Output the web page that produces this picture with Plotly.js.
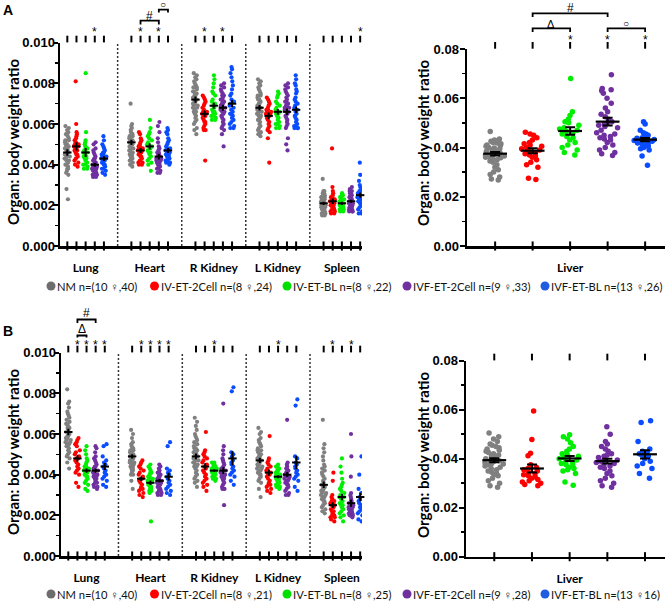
<!DOCTYPE html>
<html><head><meta charset="utf-8">
<script src="https://cdn.plot.ly/plotly-3.0.1.min.js"></script>
<style>html,body{margin:0;padding:0;background:#fff}#c{width:667px;height:604px}</style>
</head><body><div id="c"></div><script>
// ---------- categories / labels ----------
const organs = ['Lung','Heart','R Kidney','L Kidney','Spleen'];
const groups = ['NM','IV-ET-2Cell','IV-ET-BL','IVF-ET-2Cell','IVF-ET-BL'];
const colors = ['#808080','#ff0000','#00ee00','#7030a0','#0a4cff'];
const legendColors = ['#6d6d6d','#ff0000','#00e000','#7030a0','#1f5ce0'];
const legendA = ['NM n=(10 \u2640,40)','IV-ET-2Cell n=(8 \u2640,24)','IV-ET-BL n=(8 \u2640,22)','IVF-ET-2Cell n=(9 \u2640,33)','IVF-ET-BL n=(13 \u2640,26)'];
const legendB = ['NM n=(10 \u2640,40)','IV-ET-2Cell n=(8 \u2640,21)','IV-ET-BL n=(8 \u2640,25)','IVF-ET-2Cell n=(9 \u2640,28)','IVF-ET-BL n=(13 \u264016)'];
const yTicksL = [0, 0.002, 0.004, 0.006, 0.008, 0.010];
const yTicksR = [0, 0.02, 0.04, 0.06, 0.08];

// ---------- Panel A data (organ : body weight ratio) ----------
const A_lung = [
 [.0059,.0058,.0057,.0056,.0055,.0055,.0054,.0053,.0052,.0052,.0051,.0050,.0050,.0049,.0048,.0048,.0047,.0047,.0046,.0046,.0045,.0045,.0044,.0044,.0043,.0043,.0042,.0042,.0041,.0040,.0040,.0039,.0038,.0038,.0037,.0036,.0035,.0028,.0023,.0049],
 [.0081,.0060,.0056,.0055,.0054,.0053,.0052,.0051,.0050,.0050,.0049,.0049,.0048,.0047,.0047,.0046,.0045,.0045,.0044,.0043,.0042,.0041,.0040,.0039],
 [.0085,.0056,.0052,.0051,.0050,.0049,.0048,.0047,.0046,.0046,.0045,.0044,.0044,.0043,.0043,.0042,.0041,.0040,.0040,.0039,.0038,.0038],
 [.0051,.0050,.0048,.0047,.0046,.0045,.0044,.0043,.0043,.0042,.0042,.0041,.0041,.0040,.0040,.0040,.0039,.0039,.0039,.0038,.0038,.0038,.0037,.0037,.0037,.0036,.0036,.0036,.0035,.0035,.0035,.0034,.0034],
 [.0054,.0052,.0050,.0049,.0048,.0047,.0046,.0046,.0045,.0045,.0044,.0044,.0043,.0043,.0042,.0042,.0041,.0041,.0040,.0040,.0039,.0038,.0038,.0037,.0036,.0035]];
const A_heart = [
 [.0070,.0060,.0059,.0058,.0057,.0056,.0055,.0055,.0054,.0054,.0053,.0053,.0052,.0052,.0051,.0051,.0050,.0050,.0050,.0049,.0049,.0048,.0048,.0047,.0047,.0046,.0046,.0045,.0045,.0044,.0044,.0043,.0043,.0042,.0042,.0041,.0040,.0039,.0051,.0052],
 [.0056,.0055,.0053,.0052,.0051,.0050,.0049,.0049,.0048,.0048,.0047,.0047,.0046,.0046,.0045,.0045,.0044,.0044,.0043,.0042,.0041,.0041,.0040,.0040],
 [.0062,.0058,.0056,.0055,.0054,.0053,.0052,.0051,.0050,.0049,.0049,.0048,.0047,.0046,.0046,.0045,.0044,.0043,.0042,.0041,.0040,.0037],
 [.0061,.0059,.0056,.0053,.0051,.0049,.0048,.0047,.0046,.0046,.0045,.0045,.0044,.0044,.0044,.0043,.0043,.0043,.0042,.0042,.0042,.0041,.0041,.0041,.0040,.0040,.0039,.0039,.0038,.0038,.0037,.0036,.0036],
 [.0058,.0057,.0056,.0055,.0053,.0052,.0051,.0050,.0049,.0048,.0048,.0047,.0047,.0046,.0046,.0045,.0045,.0044,.0044,.0043,.0043,.0042,.0042,.0041,.0041,.0040]];
const A_rkid = [
 [.0085,.0084,.0083,.0082,.0081,.0080,.0079,.0078,.0078,.0077,.0076,.0076,.0075,.0075,.0074,.0074,.0073,.0073,.0072,.0072,.0071,.0071,.0070,.0070,.0069,.0069,.0068,.0068,.0067,.0066,.0066,.0065,.0064,.0063,.0062,.0061,.0060,.0058,.0057,.0055],
 [.0074,.0073,.0072,.0071,.0070,.0069,.0068,.0067,.0066,.0066,.0065,.0065,.0064,.0064,.0063,.0062,.0061,.0061,.0060,.0059,.0058,.0057,.0057,.0042],
 [.0084,.0082,.0080,.0078,.0076,.0075,.0074,.0072,.0071,.0070,.0069,.0068,.0067,.0066,.0066,.0065,.0065,.0064,.0064,.0063,.0062,.0062],
 [.0080,.0079,.0078,.0077,.0076,.0075,.0074,.0074,.0073,.0072,.0072,.0071,.0071,.0070,.0070,.0069,.0069,.0068,.0068,.0067,.0066,.0066,.0065,.0064,.0063,.0062,.0061,.0060,.0059,.0058,.0057,.0055,.0049],
 [.0088,.0087,.0085,.0083,.0081,.0079,.0077,.0075,.0074,.0072,.0071,.0070,.0069,.0068,.0067,.0066,.0065,.0065,.0064,.0063,.0062,.0061,.0060,.0059,.0058,.0058]];
const A_lkid = [
 [.0082,.0081,.0080,.0079,.0078,.0077,.0076,.0075,.0074,.0074,.0073,.0072,.0072,.0071,.0070,.0070,.0069,.0069,.0068,.0068,.0067,.0067,.0066,.0066,.0065,.0065,.0064,.0064,.0063,.0062,.0062,.0061,.0060,.0059,.0058,.0057,.0056,.0055,.0054,.0068],
 [.0073,.0072,.0071,.0070,.0069,.0068,.0067,.0067,.0066,.0066,.0065,.0065,.0064,.0064,.0063,.0062,.0061,.0060,.0059,.0058,.0057,.0056,.0053,.0041],
 [.0076,.0075,.0074,.0073,.0071,.0070,.0069,.0068,.0067,.0066,.0066,.0065,.0065,.0064,.0063,.0062,.0061,.0060,.0060,.0059,.0058,.0058],
 [.0080,.0079,.0078,.0077,.0076,.0075,.0074,.0073,.0072,.0071,.0071,.0070,.0070,.0069,.0069,.0068,.0068,.0067,.0067,.0066,.0066,.0065,.0064,.0063,.0062,.0061,.0060,.0059,.0058,.0053,.0050,.0047,.0068],
 [.0084,.0082,.0080,.0079,.0077,.0076,.0075,.0073,.0072,.0071,.0070,.0069,.0068,.0067,.0066,.0065,.0064,.0063,.0062,.0061,.0060,.0059,.0059,.0058,.0058,.0058]];
const A_spleen = [
 [.0033,.0027,.0027,.0026,.0026,.0025,.0025,.0025,.0024,.0024,.0024,.0023,.0023,.0023,.0022,.0022,.0022,.0021,.0021,.0021,.0021,.0020,.0020,.0020,.0020,.0019,.0019,.0019,.0018,.0018,.0018,.0017,.0017,.0017,.0016,.0016,.0016,.0015,.0015,.0022],
 [.0048,.0029,.0027,.0026,.0025,.0024,.0024,.0023,.0023,.0022,.0022,.0021,.0021,.0020,.0020,.0020,.0019,.0019,.0018,.0018,.0017,.0017,.0016,.0016],
 [.0026,.0025,.0025,.0024,.0024,.0023,.0023,.0022,.0022,.0021,.0021,.0021,.0020,.0020,.0020,.0019,.0019,.0019,.0018,.0018,.0017,.0017],
 [.0029,.0028,.0027,.0027,.0026,.0026,.0025,.0025,.0024,.0024,.0024,.0023,.0023,.0023,.0022,.0022,.0022,.0021,.0021,.0021,.0020,.0020,.0020,.0019,.0019,.0019,.0018,.0018,.0018,.0018,.0017,.0017,.0017],
 [.0041,.0035,.0032,.0030,.0029,.0028,.0027,.0027,.0026,.0026,.0025,.0025,.0024,.0024,.0023,.0023,.0022,.0022,.0021,.0021,.0020,.0019,.0018,.0017,.0016,.0016]];
const A_liver = [
 [.0465,.0435,.0430,.0428,.0425,.0420,.0418,.0415,.0410,.0408,.0405,.0400,.0398,.0395,.0390,.0388,.0385,.0382,.0380,.0378,.0375,.0372,.0370,.0368,.0365,.0362,.0360,.0358,.0355,.0350,.0345,.0340,.0330,.0320,.0310,.0300,.0290,.0280,.0272,.0268],
 [.0462,.0455,.0450,.0440,.0430,.0420,.0415,.0410,.0405,.0400,.0395,.0390,.0385,.0380,.0375,.0370,.0365,.0360,.0350,.0340,.0330,.0320,.0275,.0270],
 [.0680,.0545,.0530,.0515,.0505,.0500,.0490,.0480,.0475,.0470,.0465,.0460,.0455,.0445,.0440,.0430,.0420,.0410,.0400,.0390,.0380,.0370],
 [.0695,.0640,.0635,.0630,.0620,.0600,.0580,.0560,.0545,.0535,.0525,.0515,.0505,.0500,.0495,.0490,.0485,.0480,.0470,.0460,.0455,.0450,.0445,.0440,.0435,.0430,.0420,.0410,.0400,.0390,.0380,.0375,.0368],
 [.0505,.0495,.0470,.0460,.0455,.0450,.0445,.0440,.0438,.0435,.0432,.0430,.0428,.0425,.0422,.0420,.0418,.0415,.0412,.0410,.0405,.0400,.0395,.0390,.0365,.0328]];
const A_mean = [[.0046,.0049,.0046,.0040,.0043],[.0051,.0047,.0049,.0044,.0047],[.0072,.0065,.0069,.0068,.0070],[.0068,.0064,.0066,.0066,.0067],[.0021,.0022,.0021,.0022,.0025]];
const A_sem  = [[.00016,.00020,.00022,.00010,.00012],[.00013,.00012,.00015,.00014,.00012],[.00015,.00016,.00015,.00015,.00018],[.00014,.00017,.00014,.00016,.00016],[.00008,.00014,.00008,.00007,.00013]];
const A_liverMean = [.0375,.0387,.0467,.0505,.0432];
const A_liverSem  = [.0007,.0010,.0015,.0016,.0007];
const A_stars = [[0,3],[1,1],[1,3],[2,1],[2,3],[4,4]];
const A_liverStars = [2,3,4];

// ---------- Panel B data ----------
const B_lung = [
 [.0082,.0076,.0075,.0073,.0071,.0070,.0069,.0068,.0067,.0066,.0065,.0065,.0064,.0063,.0063,.0062,.0061,.0061,.0060,.0060,.0059,.0059,.0058,.0058,.0057,.0057,.0056,.0056,.0055,.0055,.0054,.0054,.0053,.0052,.0051,.0050,.0049,.0048,.0046,.0043],
 [.0058,.0057,.0056,.0055,.0054,.0052,.0051,.0050,.0049,.0048,.0048,.0047,.0046,.0045,.0044,.0043,.0042,.0041,.0040,.0036,.0034],
 [.0054,.0052,.0050,.0048,.0047,.0046,.0045,.0044,.0044,.0043,.0043,.0042,.0042,.0041,.0041,.0040,.0040,.0039,.0039,.0038,.0037,.0036,.0035,.0033,.0032],
 [.0054,.0053,.0051,.0049,.0048,.0047,.0046,.0045,.0044,.0044,.0043,.0042,.0042,.0041,.0041,.0040,.0040,.0039,.0039,.0038,.0038,.0037,.0036,.0036,.0035,.0034,.0034,.0033],
 [.0055,.0054,.0049,.0047,.0046,.0045,.0044,.0043,.0042,.0041,.0040,.0039,.0038,.0037,.0035,.0034]];
const B_heart = [
 [.0062,.0060,.0058,.0056,.0055,.0054,.0053,.0053,.0052,.0052,.0051,.0051,.0050,.0050,.0050,.0049,.0049,.0049,.0048,.0048,.0048,.0047,.0047,.0047,.0046,.0046,.0046,.0045,.0045,.0044,.0044,.0043,.0043,.0042,.0042,.0041,.0040,.0040,.0037,.0033],
 [.0047,.0046,.0045,.0044,.0043,.0042,.0041,.0040,.0039,.0038,.0038,.0037,.0036,.0035,.0034,.0033,.0033,.0032,.0031,.0030,.0029],
 [.0045,.0044,.0043,.0042,.0041,.0041,.0040,.0039,.0039,.0038,.0038,.0037,.0037,.0036,.0036,.0035,.0035,.0034,.0034,.0033,.0033,.0032,.0032,.0031,.0017],
 [.0045,.0044,.0043,.0042,.0041,.0041,.0040,.0040,.0039,.0039,.0038,.0038,.0037,.0037,.0036,.0036,.0035,.0035,.0034,.0034,.0033,.0033,.0032,.0032,.0031,.0031,.0030,.0030],
 [.0056,.0054,.0043,.0042,.0041,.0040,.0039,.0038,.0037,.0036,.0035,.0034,.0033,.0032,.0031,.0030]];
const B_rkid = [
 [.0068,.0066,.0064,.0062,.0060,.0059,.0058,.0057,.0056,.0055,.0054,.0053,.0053,.0052,.0052,.0051,.0051,.0050,.0050,.0049,.0049,.0048,.0048,.0047,.0047,.0046,.0046,.0045,.0045,.0044,.0044,.0043,.0042,.0041,.0040,.0039,.0038,.0037,.0036,.0034],
 [.0061,.0052,.0051,.0050,.0049,.0048,.0047,.0046,.0045,.0044,.0043,.0042,.0041,.0040,.0039,.0038,.0037,.0036,.0035,.0034,.0032],
 [.0046,.0046,.0045,.0045,.0044,.0044,.0044,.0043,.0043,.0043,.0042,.0042,.0042,.0042,.0041,.0041,.0041,.0040,.0040,.0040,.0039,.0039,.0038,.0038,.0037],
 [.0075,.0054,.0052,.0050,.0048,.0047,.0046,.0045,.0044,.0043,.0043,.0042,.0042,.0041,.0041,.0040,.0040,.0039,.0039,.0038,.0038,.0037,.0036,.0035,.0034,.0033,.0033,.0025],
 [.0083,.0081,.0051,.0050,.0049,.0047,.0046,.0045,.0044,.0043,.0042,.0041,.0040,.0039,.0037,.0035]];
const B_lkid = [
 [.0063,.0061,.0060,.0058,.0057,.0056,.0055,.0054,.0053,.0052,.0052,.0051,.0050,.0050,.0049,.0049,.0048,.0048,.0047,.0047,.0046,.0046,.0045,.0045,.0044,.0044,.0043,.0043,.0042,.0042,.0041,.0041,.0040,.0040,.0039,.0038,.0037,.0036,.0033,.0029],
 [.0059,.0048,.0047,.0046,.0045,.0044,.0043,.0042,.0041,.0040,.0040,.0039,.0038,.0037,.0036,.0035,.0035,.0034,.0033,.0032,.0031],
 [.0045,.0044,.0044,.0043,.0043,.0042,.0042,.0041,.0041,.0040,.0040,.0039,.0039,.0039,.0038,.0038,.0037,.0037,.0036,.0036,.0035,.0035,.0034,.0034,.0033],
 [.0067,.0046,.0045,.0044,.0043,.0043,.0042,.0042,.0041,.0041,.0040,.0040,.0039,.0039,.0038,.0038,.0037,.0037,.0036,.0036,.0035,.0035,.0034,.0033,.0032,.0031,.0030,.0030],
 [.0077,.0074,.0049,.0048,.0046,.0045,.0044,.0043,.0042,.0041,.0040,.0039,.0038,.0037,.0034,.0032]];
const B_spleen = [
 [.0067,.0055,.0053,.0051,.0049,.0047,.0045,.0044,.0043,.0042,.0041,.0040,.0039,.0038,.0037,.0036,.0035,.0035,.0034,.0034,.0033,.0033,.0032,.0032,.0031,.0031,.0030,.0030,.0029,.0029,.0028,.0028,.0027,.0027,.0026,.0025,.0024,.0023,.0022,.0021],
 [.0041,.0037,.0030,.0029,.0028,.0027,.0027,.0026,.0025,.0025,.0024,.0023,.0022,.0022,.0021,.0020,.0020,.0019,.0019,.0018,.0017],
 [.0048,.0044,.0041,.0038,.0036,.0035,.0034,.0033,.0032,.0031,.0030,.0029,.0029,.0028,.0027,.0026,.0025,.0025,.0024,.0023,.0022,.0021,.0020,.0019,.0017],
 [.0060,.0049,.0039,.0031,.0030,.0029,.0028,.0027,.0027,.0026,.0026,.0025,.0025,.0024,.0024,.0024,.0023,.0023,.0023,.0022,.0022,.0022,.0021,.0021,.0021,.0020,.0020,.0019],
 [.0049,.0040,.0033,.0031,.0029,.0028,.0027,.0026,.0025,.0024,.0023,.0022,.0021,.0020,.0018,.0017]];
const B_liver = [
 [.0505,.0490,.0480,.0470,.0460,.0455,.0450,.0445,.0440,.0435,.0430,.0425,.0420,.0415,.0410,.0405,.0400,.0398,.0395,.0392,.0390,.0388,.0385,.0380,.0378,.0375,.0370,.0365,.0360,.0355,.0350,.0345,.0340,.0335,.0330,.0320,.0310,.0300,.0290,.0283],
 [.0595,.0478,.0422,.0412,.0375,.0365,.0360,.0355,.0350,.0345,.0340,.0335,.0330,.0325,.0320,.0315,.0310,.0305,.0300,.0295,.0290],
 [.0498,.0490,.0480,.0465,.0450,.0440,.0430,.0420,.0415,.0410,.0405,.0400,.0395,.0390,.0385,.0380,.0375,.0370,.0365,.0360,.0355,.0350,.0340,.0305,.0292],
 [.0530,.0500,.0470,.0460,.0450,.0440,.0430,.0420,.0415,.0410,.0405,.0400,.0395,.0390,.0385,.0380,.0375,.0370,.0365,.0360,.0350,.0340,.0330,.0320,.0310,.0300,.0290,.0283],
 [.0555,.0548,.0470,.0440,.0430,.0425,.0420,.0415,.0410,.0400,.0390,.0380,.0370,.0360,.0340,.0320]];
const B_mean = [[.0061,.0048,.0042,.0042,.0044],[.0049,.0038,.0036,.0037,.0039],[.0049,.0044,.0042,.0042,.0048],[.0047,.0041,.0039,.0040,.0046],[.0035,.0025,.0029,.0026,.0029]];
const B_sem  = [[.00016,.00015,.00010,.00011,.00017],[.00011,.00011,.00011,.00009,.00019],[.00014,.00016,.00006,.00017,.00035],[.00013,.00015,.00007,.00013,.00033],[.00016,.00014,.00016,.00018,.00021]];
const B_liverMean = [.0394,.0360,.0401,.0390,.0418];
const B_liverSem  = [.0008,.0016,.0010,.0010,.0017];
const B_stars = [[0,1],[0,2],[0,3],[0,4],[1,1],[1,2],[1,3],[1,4],[2,2],[3,2],[4,1],[4,3]];
const B_liverStars = [];

// ---------- geometry (pixels) ----------
const W = 667, H = 604;
const PX = x => x / W, PY = y => 1 - y / H;
const LR = [-0.8, 32.2], RR = [-0.75, 4.53];
const GEO = {
  A: {L: {x0: 60, x1: 362, yb: 246, yt: 42.7}, R: {x0: 467, x1: 665, yb: 246, yt: 49}},
  B: {L: {x0: 61, x1: 362, yb: 556, yt: 352.7}, R: {x0: 466, x1: 665, yb: 556.7, yt: 360.7}}
};
const xL = (g, v) => g.x0 + (v - LR[0]) / (LR[1] - LR[0]) * (g.x1 - g.x0);
const xR = (g, v) => g.x0 + (v - RR[0]) / (RR[1] - RR[0]) * (g.x1 - g.x0);
const pos = (oi, gi) => oi * 7 + gi;

const traces = [], shapes = [], annotations = [];
const FONT_NUM = 'Liberation Sans, Arial, sans-serif';
const FONT_TXT = 'Lato, Open Sans, sans-serif';

function vbar(x, yTop, yBot, w) {
  shapes.push({type: 'line', xref: 'paper', yref: 'paper', x0: PX(x), x1: PX(x), y0: PY(yBot), y1: PY(yTop), line: {color: '#000', width: w || 2}});
}
function star(x, y) {
  annotations.push({text: '*', x: PX(x), y: PY(y), xref: 'paper', yref: 'paper', showarrow: false, xanchor: 'center', yanchor: 'middle',
    font: {family: FONT_NUM, size: 12, color: '#000'}});
}

function panel(G, axL, ayL, axR, ayR, organData, means, sems, liver, liverMean, liverSem, stars, liverStars, starYL, starYR) {
  organData.forEach((org, oi) => org.forEach((vals, gi) => {
    traces.push({type: 'box', x0: pos(oi, gi), y: vals, xaxis: axL, yaxis: ayL, boxpoints: 'all', jitter: 1, pointpos: 0,
      width: 0.62, fillcolor: 'rgba(0,0,0,0)', line: {width: 0, color: 'rgba(0,0,0,0)'}, whiskerwidth: 0,
      marker: {color: colors[gi], size: 4.2}, hoverinfo: 'skip', showlegend: false});
  }));
  liver.forEach((vals, gi) => {
    traces.push({type: 'box', x0: gi, y: vals, xaxis: axR, yaxis: ayR, boxpoints: 'all', jitter: 1, pointpos: 0,
      width: 0.6, fillcolor: 'rgba(0,0,0,0)', line: {width: 0, color: 'rgba(0,0,0,0)'}, whiskerwidth: 0,
      marker: {color: colors[gi], size: 5.5}, hoverinfo: 'skip', showlegend: false});
  });
  const mx = [], my = [], me = [], allx = [];
  means.forEach((row, oi) => row.forEach((m, gi) => { mx.push(pos(oi, gi)); my.push(m); me.push(sems[oi][gi]); }));
  traces.push({type: 'scatter', mode: 'markers', x: mx, y: my, xaxis: axL, yaxis: ayL, cliponaxis: false,
    marker: {symbol: 'line-ew-open', size: 6, color: '#000', line: {width: 2, color: '#000'}},
    error_y: {type: 'data', array: me, visible: true, color: '#000', thickness: 2, width: 0}, hoverinfo: 'skip', showlegend: false});
  traces.push({type: 'scatter', mode: 'markers', x: [0,1,2,3,4], y: liverMean, xaxis: axR, yaxis: ayR, cliponaxis: false,
    marker: {symbol: 'line-ew-open', size: 17, color: '#000', line: {width: 2.2, color: '#000'}},
    error_y: {type: 'data', array: liverSem, visible: true, color: '#000', thickness: 2, width: 5}, hoverinfo: 'skip', showlegend: false});
  organs.forEach((o, oi) => groups.forEach((g, gi) => allx.push(pos(oi, gi))));
  const tickStyle = {symbol: 'line-ns-open', color: '#000', line: {width: 2, color: '#000'}};
  traces.push({type: 'scatter', mode: 'markers', x: allx, y: allx.map(() => 0), xaxis: axL, yaxis: ayL, cliponaxis: false,
    marker: Object.assign({size: 6.5}, tickStyle), hoverinfo: 'skip', showlegend: false});
  traces.push({type: 'scatter', mode: 'markers', x: [0,1,2,3,4], y: [0,0,0,0,0], xaxis: axR, yaxis: ayR, cliponaxis: false,
    marker: Object.assign({size: 6.5}, tickStyle), hoverinfo: 'skip', showlegend: false});
  allx.forEach(v => vbar(xL(G.L, v), G.L.yt - 7, G.L.yt - 0.3));
  [0,1,2,3,4].forEach(v => vbar(xR(G.R, v), G.R.yt - 7, G.R.yt - 0.3));
  stars.forEach(s => star(xL(G.L, pos(s[0], s[1])), starYL));
  liverStars.forEach(s => star(xR(G.R, s), starYR));
  for (let k = 0; k < organs.length - 1; k++) {
    shapes.push({type: 'line', xref: axL, yref: ayL, x0: k * 7 + 5.5, x1: k * 7 + 5.5, y0: 0, y1: 0.010,
      line: {color: '#333', width: 1.5, dash: '2px,2px'}});
  }
}

panel(GEO.A, 'x', 'y', 'x2', 'y2', [A_lung, A_heart, A_rkid, A_lkid, A_spleen], A_mean, A_sem, A_liver, A_liverMean, A_liverSem,
  A_stars, A_liverStars, 32, 39.5);
panel(GEO.B, 'x3', 'y3', 'x4', 'y4', [B_lung, B_heart, B_rkid, B_lkid, B_spleen], B_mean, B_sem, B_liver, B_liverMean, B_liverSem,
  B_stars, B_liverStars, 344.5, 351);

// ---------- brackets & symbols ----------
function bracket(x0, x1, y, yLeg) {
  shapes.push({type: 'path', xref: 'paper', yref: 'paper',
    path: 'M' + PX(x0) + ',' + PY(yLeg) + ' L' + PX(x0) + ',' + PY(y) + ' L' + PX(x1) + ',' + PY(y) + ' L' + PX(x1) + ',' + PY(yLeg),
    line: {color: '#000', width: 1.8}});
}
function sym(t, x, y, size) {
  annotations.push({text: t, x: PX(x), y: PY(y), xref: 'paper', yref: 'paper', showarrow: false, xanchor: 'center', yanchor: 'middle',
    font: {family: FONT_NUM, size: size, color: '#000'}});
}
const gAL = GEO.A.L, gAR = GEO.A.R, gBL = GEO.B.L;
bracket(xL(gAL, 8), xL(gAL, 10), 20.7, 24.5); sym('#', xL(gAL, 9), 15.5, 12);
bracket(xL(gAL, 10), xL(gAL, 11), 9.7, 12.5); sym('\u25CB', (xL(gAL, 10) + xL(gAL, 11)) / 2, 4.5, 10);
bracket(xR(gAR, 1), xR(gAR, 3), 13.3, 17); sym('#', xR(gAR, 2), 8, 12);
bracket(xR(gAR, 1), xR(gAR, 2), 28.3, 32); sym('\u0394', (xR(gAR, 1) + xR(gAR, 2)) / 2, 23.5, 11);
bracket(xR(gAR, 3), xR(gAR, 4), 28.3, 32); sym('\u25CB', (xR(gAR, 3) + xR(gAR, 4)) / 2, 23.5, 10);
bracket(xL(gBL, 1), xL(gBL, 3), 319.5, 323); sym('#', xL(gBL, 2), 313, 12);
bracket(xL(gBL, 1), xL(gBL, 2), 335.5, 337.5); sym('\u0394', (xL(gBL, 1) + xL(gBL, 2)) / 2, 329, 12);

// ---------- titles, panel letters, legends ----------
function ytitle(x, y) {
  annotations.push({text: '<b>Organ: body weight ratio</b>', x: PX(x), y: PY(y), xref: 'paper', yref: 'paper', showarrow: false, textangle: -90,
    xanchor: 'center', yanchor: 'middle', font: {family: FONT_TXT, size: 15, color: '#000'}});
}
ytitle(13, 142); ytitle(423, 143); ytitle(13, 452); ytitle(423, 455);
[['A', 8, 10], ['B', 8, 331]].forEach(a => annotations.push({text: '<b>' + a[0] + '</b>', x: PX(a[1]), y: PY(a[2]), xref: 'paper', yref: 'paper', showarrow: false,
  xanchor: 'center', yanchor: 'middle', font: {family: FONT_NUM, size: 14, color: '#000'}}));
const legendX = [51, 154.5, 287, 407, 545];
function legend(labels, y) {
  labels.forEach((t, i) => {
    const cx = legendX[i];
    shapes.push({type: 'circle', xref: 'paper', yref: 'paper', x0: PX(cx - 4.5), x1: PX(cx + 4.5), y0: PY(y + 4.5), y1: PY(y - 4.5),
      fillcolor: legendColors[i], line: {width: 0}});
    annotations.push({text: t, x: PX(cx + 4), y: PY(y), xref: 'paper', yref: 'paper', showarrow: false, xanchor: 'left', yanchor: 'middle',
      font: {family: FONT_TXT, size: 11.2, color: '#111'}});
  });
}
legend(legendA, 286); legend(legendB, 594);

// ---------- axes ----------
function xax(dom, range, tv, tt, anchor) {
  return {domain: dom, range: range, tickvals: tv, ticktext: tt.map(t => '<b>' + t + '</b>'), ticks: '', showline: true, linewidth: 2.5, linecolor: '#000',
    showgrid: false, zeroline: false, fixedrange: true, ticklabelstandoff: 9, anchor: anchor,
    tickfont: {family: FONT_TXT, size: 12, color: '#000'}};
}
function yax(dom, range, tv, digits, anchor, standoff) {
  return {domain: dom, range: range, tickvals: tv, ticktext: tv.map(v => '<b>' + v.toFixed(digits) + '</b>'),
    ticks: 'outside', ticklen: 5, tickwidth: 2, tickcolor: '#000', ticklabelstandoff: standoff,
    showline: true, linewidth: 2.5, linecolor: '#000', showgrid: false, zeroline: false, fixedrange: true, anchor: anchor,
    minor: {tickmode: 'linear', tick0: 0, dtick: (tv[1] - tv[0]) / 2, ticks: 'outside', ticklen: 3, tickwidth: 1.5, tickcolor: '#000', showgrid: false},
    tickfont: {family: FONT_NUM, size: 13, color: '#000'}};
}
const organCenters = organs.map((o, i) => pos(i, 2));
const layout = {
  width: W, height: H, margin: {l: 0, r: 0, t: 0, b: 0}, paper_bgcolor: '#fff', plot_bgcolor: 'rgba(0,0,0,0)',
  showlegend: false, boxmode: 'overlay',
  xaxis: xax([PX(GEO.A.L.x0), PX(GEO.A.L.x1)], LR, organCenters, organs, 'y'),
  yaxis: yax([PY(GEO.A.L.yb), PY(GEO.A.L.yt)], [0, 0.010], yTicksL, 3, 'x', -5),
  xaxis2: xax([PX(GEO.A.R.x0), PX(GEO.A.R.x1)], RR, [2], ['Liver'], 'y2'),
  yaxis2: yax([PY(GEO.A.R.yb), PY(GEO.A.R.yt)], [0, 0.08], yTicksR, 2, 'x2', -2),
  xaxis3: xax([PX(GEO.B.L.x0), PX(GEO.B.L.x1)], LR, organCenters, organs, 'y3'),
  yaxis3: yax([PY(GEO.B.L.yb), PY(GEO.B.L.yt)], [0, 0.010], yTicksL, 3, 'x3', -5),
  xaxis4: xax([PX(GEO.B.R.x0), PX(GEO.B.R.x1)], RR, [2], ['Liver'], 'y4'),
  yaxis4: yax([PY(GEO.B.R.yb), PY(GEO.B.R.yt)], [0, 0.08], yTicksR, 2, 'x4', -2),
  shapes: shapes, annotations: annotations
};
Plotly.newPlot('c', traces, layout, {staticPlot: true, displayModeBar: false});
</script></body></html>
